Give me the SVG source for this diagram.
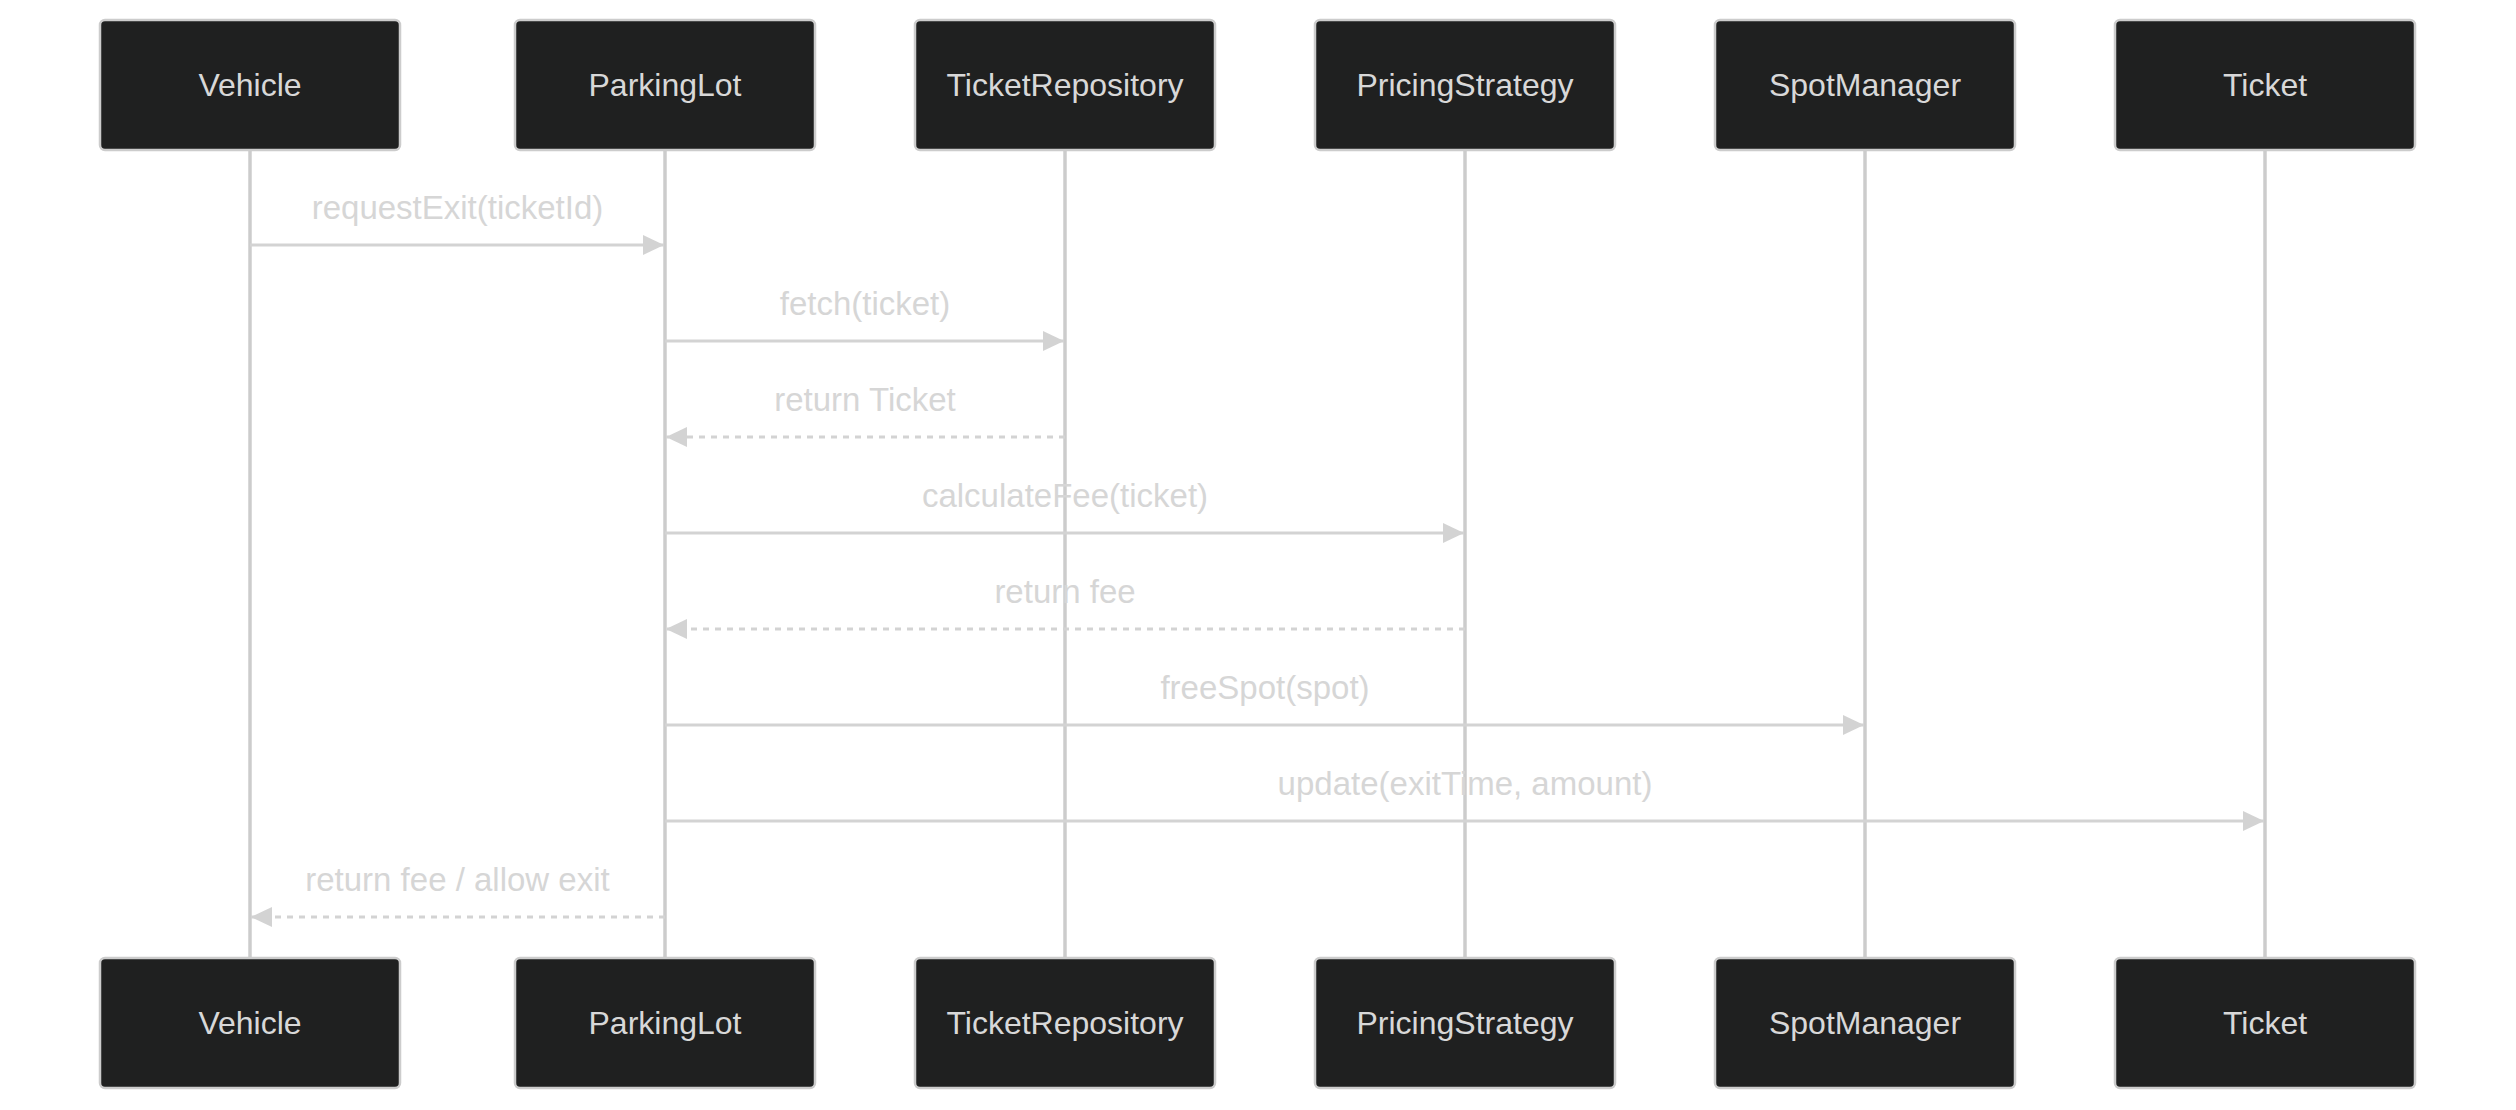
<svg xmlns="http://www.w3.org/2000/svg" width="2516" height="1110" viewBox="0 0 2516 1110">
<style>
.actor rect{fill:#1f2020;stroke:#cccccc;stroke-width:2.5}
.actor text{fill:#d8d8d8;font-family:"Liberation Sans",Arial,sans-serif;font-size:32px;text-anchor:middle;dominant-baseline:central}
.life{stroke:#cccccc;stroke-width:3.5}
.msg{stroke:#d3d3d3;stroke-width:3;fill:none}
.dash{stroke-dasharray:6,6}
.lbl{fill:#d6d6d6;font-family:"Liberation Sans",Arial,sans-serif;font-size:33px;text-anchor:middle}
</style>
<defs>
<marker id="arr" markerUnits="userSpaceOnUse" markerWidth="22" markerHeight="22" refX="21" refY="10" orient="auto" viewBox="0 0 22 20">
<path d="M0,0 L21,10 L0,20 z" fill="#d3d3d3" stroke="none"/>
</marker>
</defs>
<rect width="2516" height="1110" fill="#ffffff"/>
<g id="lifelines">
<line class="life" x1="250" y1="150" x2="250" y2="958"/>
<line class="life" x1="665" y1="150" x2="665" y2="958"/>
<line class="life" x1="1065" y1="150" x2="1065" y2="958"/>
<line class="life" x1="1465" y1="150" x2="1465" y2="958"/>
<line class="life" x1="1865" y1="150" x2="1865" y2="958"/>
<line class="life" x1="2265" y1="150" x2="2265" y2="958"/>
</g>
<g id="actor-vehicle" class="actor"><rect x="100" y="20" width="300" height="130" rx="5"/><text x="250" y="85">Vehicle</text></g>
<g id="actor-parkinglot" class="actor"><rect x="515" y="20" width="300" height="130" rx="5"/><text x="665" y="85">ParkingLot</text></g>
<g id="actor-ticketrepository" class="actor"><rect x="915" y="20" width="300" height="130" rx="5"/><text x="1065" y="85">TicketRepository</text></g>
<g id="actor-pricingstrategy" class="actor"><rect x="1315" y="20" width="300" height="130" rx="5"/><text x="1465" y="85">PricingStrategy</text></g>
<g id="actor-spotmanager" class="actor"><rect x="1715" y="20" width="300" height="130" rx="5"/><text x="1865" y="85">SpotManager</text></g>
<g id="actor-ticket" class="actor"><rect x="2115" y="20" width="300" height="130" rx="5"/><text x="2265" y="85">Ticket</text></g>
<g id="actor-vehicle-bottom" class="actor"><rect x="100" y="958" width="300" height="130" rx="5"/><text x="250" y="1023">Vehicle</text></g>
<g id="actor-parkinglot-bottom" class="actor"><rect x="515" y="958" width="300" height="130" rx="5"/><text x="665" y="1023">ParkingLot</text></g>
<g id="actor-ticketrepository-bottom" class="actor"><rect x="915" y="958" width="300" height="130" rx="5"/><text x="1065" y="1023">TicketRepository</text></g>
<g id="actor-pricingstrategy-bottom" class="actor"><rect x="1315" y="958" width="300" height="130" rx="5"/><text x="1465" y="1023">PricingStrategy</text></g>
<g id="actor-spotmanager-bottom" class="actor"><rect x="1715" y="958" width="300" height="130" rx="5"/><text x="1865" y="1023">SpotManager</text></g>
<g id="actor-ticket-bottom" class="actor"><rect x="2115" y="958" width="300" height="130" rx="5"/><text x="2265" y="1023">Ticket</text></g>
<g id="messages">
<line class="msg" x1="250" y1="245" x2="664" y2="245" marker-end="url(#arr)"/>
<text class="lbl" x="457.5" y="219">requestExit(ticketId)</text>
<line class="msg" x1="665" y1="341" x2="1064" y2="341" marker-end="url(#arr)"/>
<text class="lbl" x="865" y="315">fetch(ticket)</text>
<line class="msg dash" x1="1065" y1="437" x2="666" y2="437" marker-end="url(#arr)"/>
<text class="lbl" x="865" y="411">return Ticket</text>
<line class="msg" x1="665" y1="533" x2="1464" y2="533" marker-end="url(#arr)"/>
<text class="lbl" x="1065" y="507">calculateFee(ticket)</text>
<line class="msg dash" x1="1465" y1="629" x2="666" y2="629" marker-end="url(#arr)"/>
<text class="lbl" x="1065" y="603">return fee</text>
<line class="msg" x1="665" y1="725" x2="1864" y2="725" marker-end="url(#arr)"/>
<text class="lbl" x="1265" y="699">freeSpot(spot)</text>
<line class="msg" x1="665" y1="821" x2="2264" y2="821" marker-end="url(#arr)"/>
<text class="lbl" x="1465" y="795">update(exitTime, amount)</text>
<line class="msg dash" x1="665" y1="917" x2="251" y2="917" marker-end="url(#arr)"/>
<text class="lbl" x="457.5" y="891">return fee / allow exit</text>
</g>
</svg>
